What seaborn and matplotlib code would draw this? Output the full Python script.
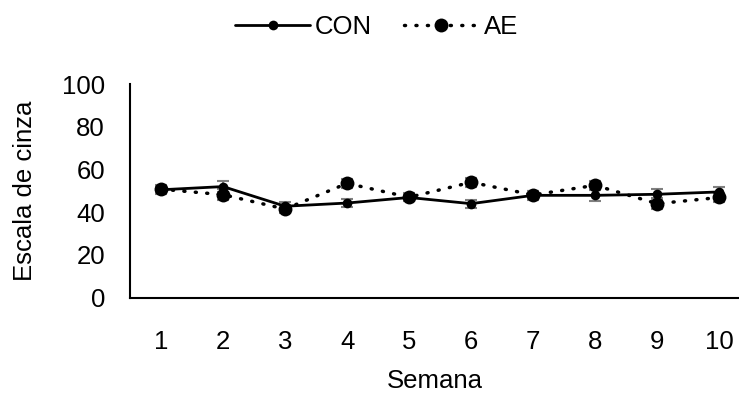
import numpy as np
import pandas as pd
import matplotlib
matplotlib.use('Agg')
import matplotlib.pyplot as plt
import seaborn as sns

semana = [1, 2, 3, 4, 5, 6, 7, 8, 9, 10]
con = [50.5, 52.0, 42.8, 44.3, 46.9, 44.0, 47.9, 47.9, 48.4, 49.5]
ae = [50.8, 48.2, 41.5, 53.5, 47.0, 54.0, 48.1, 52.6, 44.0, 46.9]
con_err = [2.0, 2.5, 1.8, 1.8, 1.8, 1.8, 2.0, 2.5, 2.5, 2.2]
ae_err = [2.0, 2.5, 1.8, 2.2, 1.8, 2.0, 2.0, 2.2, 2.5, 2.0]

sns.set_style('white')
plt.rcParams['font.family'] = ['Liberation Sans', 'DejaVu Sans']
plt.rcParams['text.color'] = 'black'
plt.rcParams['axes.labelcolor'] = 'black'
plt.rcParams['xtick.color'] = 'black'
plt.rcParams['ytick.color'] = 'black'

df = pd.DataFrame({'Semana': semana * 2,
                   'valor': con + ae,
                   'grupo': ['CON'] * 10 + ['AE'] * 10})

fig = plt.figure(figsize=(7.39, 3.94), dpi=100)
ax = fig.add_axes([0.176, 0.2444, 0.824, 0.5424])

# error bars (gray caps) first
ax.errorbar(semana, con, yerr=con_err, fmt='none', ecolor='#808080', elinewidth=1.5, capsize=4, capthick=1.5, zorder=1)
ax.errorbar(semana, ae, yerr=ae_err, fmt='none', ecolor='#808080', elinewidth=1.5, capsize=4, capthick=1.5, zorder=1)

sns.lineplot(data=df[df.grupo == 'CON'], x='Semana', y='valor', ax=ax, color='black',
             linewidth=2, marker='o', markersize=7, markeredgewidth=0, label='CON', zorder=3)
sns.lineplot(data=df[df.grupo == 'AE'], x='Semana', y='valor', ax=ax, color='black',
             linewidth=2.5, linestyle=(0, (0.3, 3.0)), dash_capstyle='round', marker='o', markersize=10,
             markeredgewidth=0, label='AE', zorder=2)

ax.set_xlim(0.5, 10.32)
ax.set_ylim(0, 100)
ax.set_xticks(semana)
ax.set_yticks([0, 20, 40, 60, 80, 100])
ax.tick_params(axis='x', labelsize=18.5, length=0, pad=23)
ax.tick_params(axis='y', labelsize=18.5, length=0, pad=18)
ax.set_xlabel('Semana', fontsize=18.5, labelpad=11)
ax.set_ylabel('Escala de cinza', fontsize=18.5, labelpad=18)
for s in ['top', 'right']:
    ax.spines[s].set_visible(False)
for s in ['left', 'bottom']:
    ax.spines[s].set_color('black')
    ax.spines[s].set_linewidth(1.5)

ax.legend(loc='center', bbox_to_anchor=(0.405, 1.267), ncol=2, frameon=False, fontsize=18.5,
          handlelength=2.9, columnspacing=1.25, handletextpad=0.2)

fig.savefig('out.png', dpi=100)
